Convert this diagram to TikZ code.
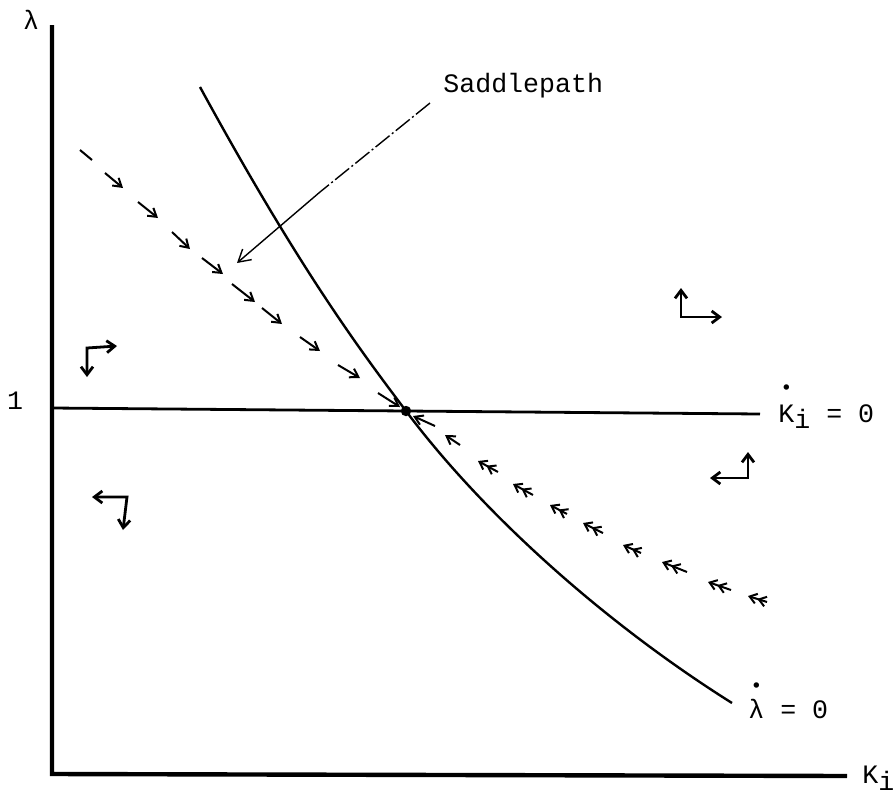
\documentclass[tikz,border=0pt]{standalone}
\usepackage{fontspec}
\setmonofont{Liberation Mono}
\usetikzlibrary{arrows.meta}
\newcommand\dotover[2]{\leavevmode\vbox{\offinterlineskip\halign{\hfil##\hfil\cr{\fontsize{6}{6}\selectfont$\bullet$}\cr\noalign{\kern#2}#1\cr}}}
\tikzset{
  lbl/.style={inner sep=0pt, font=\fontsize{13.3}{16}\selectfont\ttfamily},
  axisline/.style={line width=2.2pt},
  curveline/.style={line width=1.2pt},
  hline/.style={line width=1.4pt},
  sp/.style={line width=1pt, -{Straight Barb[length=4pt,width=5pt]}},
  spplain/.style={line width=1pt},
  spback/.style={line width=1pt, {Straight Barb[length=4pt,width=5pt]}-},
  spback2/.style={line width=1pt, {Straight Barb[length=3.5pt,width=5pt]Straight Barb[length=3.5pt,width=5pt]}-},
  corner/.style={line width=1.4pt, {Straight Barb[length=4pt,width=6pt]}-{Straight Barb[length=4pt,width=6pt]}},
  leader/.style={line width=0.7pt},
}
\begin{document}
\begin{tikzpicture}[x=0.5pt,y=-0.5pt]
\useasboundingbox (0,0) rectangle (896,794);
% axes
\coordinate (ytop) at (52,25);
\coordinate (O) at (52,774);
\coordinate (xend) at (847,776);
\draw[axisline] (ytop) -- (O) -- (xend);
\node[lbl] (lam) at (31,20) {λ};
\node[lbl, anchor=base west] (kx) at (862,783) {K\raisebox{-0.55ex}{i}};
\node[lbl] (one) at (15,401) {1};
% K-dot = 0 line
\coordinate (h1) at (52,408);
\coordinate (h2) at (760,414);
\draw[hline] (h1) -- (h2);
\node[lbl, anchor=base west] (kdot) at (778,422) {\dotover{K}{7pt}\raisebox{-0.45ex}{i} = 0};
% lambda-dot = 0 curve
\coordinate (E) at (406,411);
\coordinate (ctop) at (200,87);
\coordinate (cend) at (732,703);
\draw[curveline] (ctop) .. controls (300,270) and (360,350) .. (E)
                 .. controls (480,510) and (600,620) .. (cend);
\node[lbl, anchor=base west] (ldot) at (748,718) {\dotover{λ}{5pt} = 0};
\fill (E) circle (2.6pt);
% saddle path, upper left
\coordinate (s0a) at (80,150); \coordinate (s0b) at (92,160);
\draw[spplain] (s0a) -- (s0b);
\coordinate (u1a) at (105,173); \coordinate (u1b) at (123,188);
\coordinate (u2a) at (138,202); \coordinate (u2b) at (158,218);
\coordinate (u3a) at (172,232); \coordinate (u3b) at (190,249);
\coordinate (u4a) at (202,258); \coordinate (u4b) at (223,274);
\coordinate (u5a) at (232,284); \coordinate (u5b) at (255,302);
\coordinate (u6a) at (262,308); \coordinate (u6b) at (282,324);
\coordinate (u7a) at (300,337); \coordinate (u7b) at (320,351);
\coordinate (u8a) at (338,365); \coordinate (u8b) at (360,378);
\coordinate (u9a) at (378,393); \coordinate (u9b) at (400,407);
\foreach \k in {1,...,9}{\draw[sp] (u\k a) -- (u\k b);}
% saddle path, lower right
\coordinate (d1a) at (413,416); \coordinate (d1b) at (435,426);
\coordinate (d2a) at (445,435); \coordinate (d2b) at (460,445);
\draw[spback] (d1a) -- (d1b);
\draw[spback] (d2a) -- (d2b);
\coordinate (d3a) at (478,461); \coordinate (d3b) at (498,472);
\coordinate (d4a) at (513,484); \coordinate (d4b) at (533,495);
\coordinate (d5a) at (550,505); \coordinate (d5b) at (567,514);
\coordinate (d6a) at (583,523); \coordinate (d6b) at (603,533);
\coordinate (d7a) at (623,545); \coordinate (d7b) at (641,553);
\coordinate (d8a) at (662,562); \coordinate (d8b) at (687,572);
\coordinate (d9a) at (708,582); \coordinate (d9b) at (731,590);
\coordinate (d10a) at (748,596); \coordinate (d10b) at (767,602);
\foreach \k in {3,...,10}{\draw[spback2] (d\k a) -- (d\k b);}
% Saddlepath label and leader
\node[lbl, anchor=base west] (sl) at (443,92) {Saddlepath};
\coordinate (L1) at (430,103);
\coordinate (L2) at (320,192);
\coordinate (Lt) at (237,263);
\draw[leader, dash pattern=on 9pt off 1.5pt on 1pt off 1.5pt] (L1) -- (L2);
\draw[leader, -{Straight Barb[length=6pt,width=7pt]}] (L2) -- (Lt);
% phase arrows
\coordinate (c1) at (87,348); \coordinate (c1d) at (87,377); \coordinate (c1r) at (117,346);
\draw[corner] (c1d) -- (c1) -- (c1r);
\coordinate (c2) at (127,497); \coordinate (c2l) at (92,497); \coordinate (c2d) at (123,530);
\draw[corner] (c2l) -- (c2) -- (c2d);
\coordinate (c3) at (681,317); \coordinate (c3u) at (681,288); \coordinate (c3r) at (722,317);
\draw[corner] (c3u) -- (c3) -- (c3r);
\coordinate (c4) at (748,478); \coordinate (c4u) at (748,452); \coordinate (c4l) at (710,478);
\draw[corner] (c4l) -- (c4) -- (c4u);
\end{tikzpicture}
\end{document}
